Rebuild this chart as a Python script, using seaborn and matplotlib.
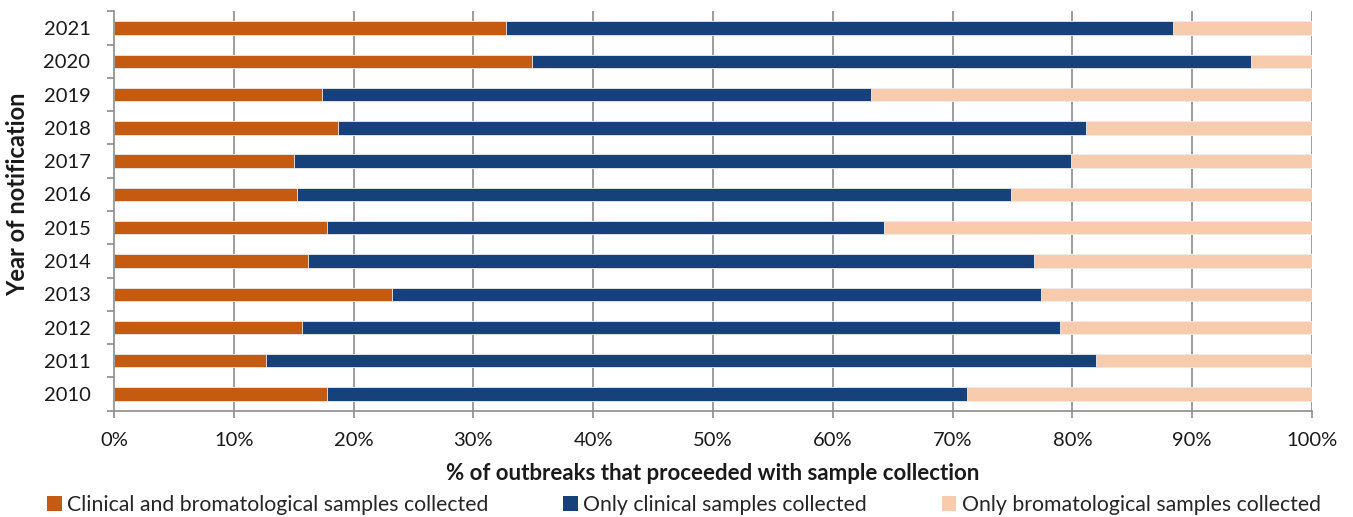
import matplotlib
matplotlib.use("Agg")
import matplotlib.pyplot as plt
from matplotlib.patches import Patch
from matplotlib.ticker import FixedLocator, PercentFormatter
import seaborn as sns
import pandas as pd
import numpy as np

# Share of outbreaks with sample collection, by year of notification (%)
years = ["2021", "2020", "2019", "2018", "2017", "2016",
         "2015", "2014", "2013", "2012", "2011", "2010"]
clinical_and_bromatological = [32.7, 34.9, 17.4, 18.7, 15.0, 15.3,
                               17.8, 16.2, 23.2, 15.7, 12.7, 17.8]
only_clinical = [55.7, 60.0, 45.8, 62.4, 64.9, 59.6,
                 46.5, 60.6, 54.2, 63.3, 69.3, 53.4]
only_bromatological = [11.6, 5.1, 36.8, 18.9, 20.1, 25.1,
                       35.7, 23.2, 22.6, 21.0, 18.0, 28.8]

series_names = ["Clinical and bromatological samples collected",
                "Only clinical samples collected",
                "Only bromatological samples collected"]
colors = ["#C55A11", "#16417A", "#F8CBAD"]

df = pd.DataFrame({
    "year": years,
    "a": clinical_and_bromatological,
    "b": only_clinical,
    "c": only_bromatological,
})
df["cum_a"] = df["a"]
df["cum_b"] = df["a"] + df["b"]
df["cum_c"] = df["a"] + df["b"] + df["c"]

sns.set_style("white")
plt.rcParams["font.family"] = ["Lato", "DejaVu Sans"]

fig = plt.figure(figsize=(13.53, 5.17), dpi=100)
ax = fig.add_axes([114 / 1353, 1 - 410.7 / 517, (1312 - 114) / 1353, (410.7 - 11.4) / 517])

grid_color = "#8C8C8C"
for x in range(10, 101, 10):
    ax.axvline(x, color=grid_color, lw=1.2, zorder=0)

# Stacked horizontal bars: draw cumulative totals back-to-front
for col, color in zip(["cum_c", "cum_b", "cum_a"], colors[::-1]):
    sns.barplot(data=df, x=col, y="year", order=years, orient="h",
                color=color, width=0.4, saturation=1, ax=ax, zorder=2,
                edgecolor="#EDEDED", linewidth=0.6)

ax.set_xlim(0, 100)
ax.set_ylim(len(years) - 0.5, -0.5)
ax.xaxis.set_major_locator(FixedLocator(np.arange(0, 101, 10)))
ax.xaxis.set_major_formatter(PercentFormatter(decimals=0))

# Category separators as outward tick marks on the value axis side
ax.yaxis.set_minor_locator(FixedLocator(np.arange(-0.5, len(years), 1)))
ax.tick_params(axis="y", which="major", length=0, pad=17, labelsize=14.5, colors="#1a1a1a")
ax.tick_params(axis="y", which="minor", length=5, width=1.2, color=grid_color, direction="out", left=True)
ax.tick_params(axis="x", which="major", length=5, width=1.2, color=grid_color, direction="out",
               pad=10, labelsize=14.5, labelcolor="#1a1a1a", bottom=True)

for side in ["top", "right"]:
    ax.spines[side].set_visible(False)
for side in ["left", "bottom"]:
    ax.spines[side].set_color(grid_color)
    ax.spines[side].set_linewidth(1.2)

ax.set_xlabel("")
ax.set_ylabel("")

fig.text(713 / 1353, 1 - 474 / 517, "% of outbreaks that proceeded with sample collection",
         ha="center", va="center", fontsize=16, fontweight="bold", color="#1a1a1a")
fig.text(18 / 1353, 1 - 194 / 517, "Year of notification", rotation=90,
         ha="center", va="center", fontsize=17, fontweight="bold", color="#1a1a1a")

handles = [Patch(facecolor=c, edgecolor="none") for c in colors]
fig.legend(handles, series_names, loc="center", bbox_to_anchor=(684 / 1353, 1 - 505 / 517),
           ncol=3, frameon=False, fontsize=15.3, handlelength=0.7, handleheight=0.7,
           handletextpad=0.25, columnspacing=3.5, borderaxespad=0)

fig.savefig("out.png", dpi=100)
